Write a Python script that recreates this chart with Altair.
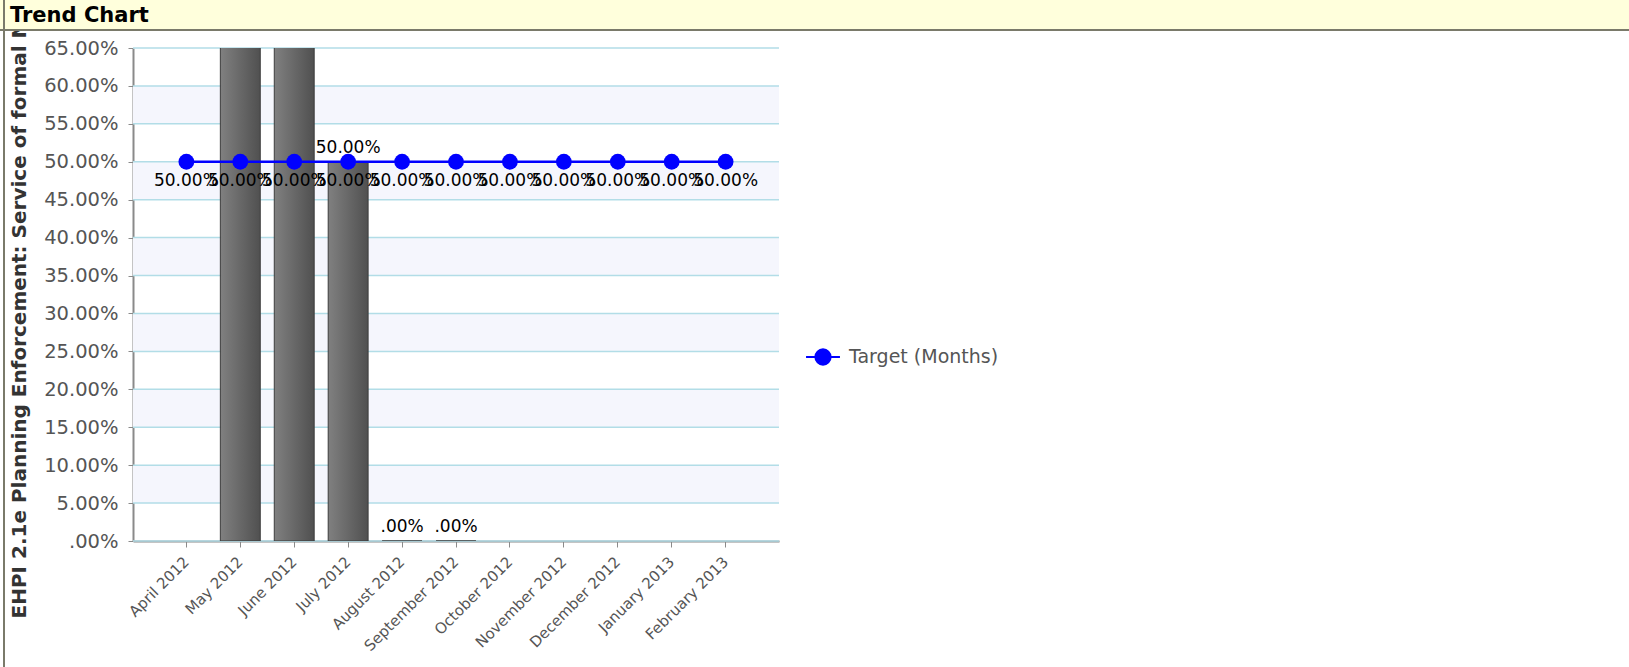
import altair as alt
import pandas as pd

# ---- data ----
months = ["April 2012", "May 2012", "June 2012", "July 2012", "August 2012",
          "September 2012", "October 2012", "November 2012", "December 2012",
          "January 2013", "February 2013"]
actual = [None, 1.0, 1.0, 0.50, 0.0, 0.0, None, None, None, None, None]
target = [0.50, 0.50, 0.50, 0.50, 0.50, 0.50, 0.50, 0.50, 0.50, 0.50, 0.50]
y_ticks = [0.0, 0.05, 0.10, 0.15, 0.20, 0.25, 0.30, 0.35, 0.40, 0.45, 0.50, 0.55, 0.60, 0.65]
shade_lo = [0.05, 0.15, 0.25, 0.35, 0.45, 0.55]
shade_hi = [0.10, 0.20, 0.30, 0.40, 0.50, 0.60]
series_name = "Target (Months)"
chart_title = "Trend Chart"
y_title = "EHPI 2.1e Planning Enforcement: Service of formal Notices"

# ---- layout ----
FULL_W, FULL_H = 1629, 667
PL, PT = 133, 48
W, H = 646, 493
PR, PB = FULL_W - PL - W, FULL_H - PT - H
FONT = "DejaVu Sans"
Y_MAX = 0.65

bar_df = pd.DataFrame({"month": months, "value": actual}).dropna()
tgt_df = pd.DataFrame({"month": months, "value": target, "series": [series_name] * len(months)})
shade_df = pd.DataFrame({"value": shade_lo, "hi": shade_hi})
tick_df = pd.DataFrame({"value": y_ticks})
one = pd.DataFrame({"k": [0]})

x_axis = alt.Axis(title=None, labelAngle=315, labelAlign="right", labelBaseline="middle",
                  labelFont=FONT, labelFontSize=15, labelColor="#555555",
                  domainColor="#8a8a8a", domainWidth=2, tickColor="#8a8a8a",
                  tickSize=6, labelPadding=12, grid=False, labelOverlap=False)
x_enc = alt.X("month:N", sort=months,
              scale=alt.Scale(domain=months, paddingInner=0.26, paddingOuter=0.62),
              axis=x_axis)
y_scale = alt.Scale(domain=[0, Y_MAX], nice=False, zero=True)
y_axis = alt.Axis(values=y_ticks,
                  labelExpr="datum.value == 0 ? '.00%' : format(datum.value, '.2%')",
                  labelFont=FONT, labelFontSize=19.5, labelColor="#555555",
                  domainColor="#8a8a8a", domainWidth=2, tickColor="#8a8a8a",
                  tickSize=5, labelPadding=10, grid=False,
                  title=y_title, titleFont=FONT, titleFontSize=20, titleFontWeight="bold",
                  titleColor="#333333", titleAngle=270, titleAlign="left",
                  titleBaseline="middle", titleX=19 - PL, titleY=618 - PT)
y_enc = alt.Y("value:Q", scale=y_scale, axis=y_axis)

shade = alt.Chart(shade_df).mark_rect(color="#f5f6fd").encode(
    y=y_enc, y2="hi:Q", x=alt.value(0), x2=alt.value(W),
)
grid = alt.Chart(tick_df).mark_rule(color="#b2dde7", strokeWidth=1.5).encode(
    y=y_enc, x=alt.value(0), x2=alt.value(W),
)

bar_fill = alt.Gradient(gradient="linear", x1=0, x2=1, y1=0, y2=0,
                        stops=[alt.GradientStop(color="#808080", offset=0),
                               alt.GradientStop(color="#505050", offset=1)])
bars = alt.Chart(bar_df).mark_bar(clip=True, color=bar_fill, stroke="#3c3c3c",
                                  strokeWidth=1).encode(x=x_enc, y=y_enc)
bar_labels = alt.Chart(bar_df).transform_filter(
    f"datum.value <= {Y_MAX}"
).transform_calculate(
    lab="datum.value == 0 ? '.00%' : format(datum.value, '.2%')"
).mark_text(dy=-14, font=FONT, fontSize=17, color="#000000").encode(
    x=x_enc, y=y_enc, text="lab:N")

line = alt.Chart(tgt_df).mark_line(color="#0000ff", strokeWidth=2.5).encode(
    x=x_enc, y=y_enc)
legend_path = "M-1,0L1,0M-0.45,0A0.45,0.45 0 1,1 0.45,0A0.45,0.45 0 1,1 -0.45,0Z"
points = alt.Chart(tgt_df).mark_point(filled=True, size=250, opacity=1).encode(
    x=x_enc, y=y_enc,
    color=alt.Color("series:N", scale=alt.Scale(domain=[series_name], range=["#0000ff"]),
                    legend=alt.Legend(title=None, orient="none", legendX=805 - PL,
                                      legendY=339 - PT, symbolType=legend_path,
                                      symbolSize=1150, symbolStrokeColor="#0000ff",
                                      symbolFillColor="#0000ff", symbolStrokeWidth=2,
                                      labelFont=FONT, labelFontSize=19,
                                      labelColor="#555555", labelOffset=8, padding=0)),
)
pt_labels = alt.Chart(tgt_df).transform_calculate(
    lab="datum.value == 0 ? '.00%' : format(datum.value, '.2%')"
).mark_text(dy=19, font=FONT, fontSize=17, color="#000000").encode(
    x=x_enc, y=y_enc, text="lab:N")

# ---- panel decoration (title bar and frame) ----
title_bar = alt.Chart(one).mark_rect(color="#ffffdc").encode(
    x=alt.value(-PL), x2=alt.value(FULL_W - PL), y=alt.value(-PT), y2=alt.value(30 - PT))
title_line = alt.Chart(one).mark_rule(color="#7a7a6a", strokeWidth=2).encode(
    x=alt.value(-PL), x2=alt.value(FULL_W - PL), y=alt.value(30 - PT))
left_line = alt.Chart(one).mark_rule(color="#7a7a6a", strokeWidth=2).encode(
    x=alt.value(4 - PL), y=alt.value(-PT), y2=alt.value(FULL_H - PT))
title_text = alt.Chart(one).mark_text(align="left", baseline="alphabetic", font=FONT,
                                      fontSize=21, fontWeight="bold", color="#000000").encode(
    x=alt.value(10 - PL), y=alt.value(22 - PT), text=alt.value(chart_title))

chart = alt.layer(
    shade, grid, bars, bar_labels, line, points, pt_labels,
    title_bar, title_line, left_line, title_text,
).properties(
    width=W, height=H,
    autosize=alt.AutoSizeParams(type="none"),
    padding={"left": PL, "top": PT, "right": PR, "bottom": PB},
    background="#ffffff",
).configure_view(stroke=None)

chart.save("out.html", embed_options={"renderer": "svg", "actions": False})
